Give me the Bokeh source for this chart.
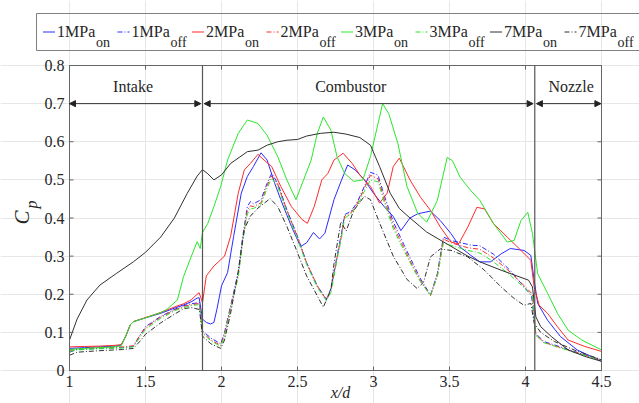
import numpy as np
from bokeh.plotting import figure
from bokeh.models import Range1d, FixedTicker, Grid, Arrow, NormalHead, ColumnDataSource
from bokeh.core.properties import value
from bokeh.embed import file_html
from bokeh.resources import INLINE

# ---------------- data ----------------
x_ticks = [1, 1.5, 2, 2.5, 3, 3.5, 4, 4.5]
x_tick_labels = ["1", "1.5", "2", "2.5", "3", "3.5", "4", "4.5"]
y_ticks = [0, 0.1, 0.2, 0.3, 0.4, 0.5, 0.6, 0.7, 0.8]
y_tick_labels = ["0", "0.1", "0.2", "0.3", "0.4", "0.5", "0.6", "0.7", "0.8"]

section_names = ["Intake", "Combustor", "Nozzle"]
section_label_x = [1.418, 2.85, 4.30]
section_bounds = [1.0, 1.875, 4.061, 4.5]

legend_main = ["1MPa", "1MPa", "2MPa", "2MPa", "3MPa", "3MPa", "7MPa", "7MPa"]
legend_sub = ["on", "off", "on", "off", "on", "off", "on", "off"]

# 1MPa on (blue solid)
x_1on = [1.0, 1.1, 1.2, 1.3, 1.34, 1.37, 1.40, 1.42, 1.5, 1.6, 1.7, 1.75, 1.80, 1.84, 1.853, 1.875, 1.90,
         1.928, 1.95, 1.97, 2.0, 2.04, 2.08, 2.13, 2.17, 2.21, 2.26, 2.30, 2.35, 2.39, 2.46, 2.52, 2.56,
         2.605, 2.645, 2.68, 2.74, 2.79, 2.83, 2.88, 2.94, 3.0, 3.07, 3.13, 3.18, 3.24, 3.29, 3.375, 3.44,
         3.51, 3.57, 3.64, 3.70, 3.77, 3.84, 3.90, 3.99, 4.035, 4.057, 4.08, 4.145, 4.23, 4.34, 4.5]
y_1on = [0.058, 0.06, 0.062, 0.064, 0.066, 0.09, 0.12, 0.128, 0.138, 0.15, 0.165, 0.172, 0.18, 0.19, 0.191,
         0.135, 0.126, 0.122, 0.126, 0.161, 0.222, 0.257, 0.352, 0.465, 0.509, 0.535, 0.571, 0.552, 0.491,
         0.448, 0.378, 0.325, 0.335, 0.362, 0.345, 0.36, 0.448, 0.50, 0.539, 0.526, 0.50, 0.465, 0.43, 0.404,
         0.367, 0.40, 0.411, 0.418, 0.393, 0.359, 0.324, 0.302, 0.285, 0.285, 0.306, 0.32, 0.315, 0.302,
         0.237, 0.176, 0.132, 0.089, 0.054, 0.024]

# 1MPa off (blue dash-dot)
x_1off = [1.0, 1.05, 1.2, 1.35, 1.42, 1.46, 1.5, 1.6, 1.7, 1.75, 1.80, 1.855, 1.875, 1.93, 1.995, 2.02, 2.06,
          2.11, 2.14, 2.17, 2.19, 2.21, 2.26, 2.30, 2.33, 2.37, 2.43, 2.5, 2.56, 2.63, 2.69, 2.72, 2.76, 2.79,
          2.81, 2.85, 2.89, 2.94, 2.98, 3.03, 3.07, 3.13, 3.20, 3.26, 3.31, 3.375, 3.42, 3.46, 3.51, 3.64,
          3.70, 3.79, 3.90, 4.0, 4.04, 4.068, 4.12, 4.19, 4.32, 4.5]
y_1off = [0.048, 0.055, 0.058, 0.06, 0.063, 0.09, 0.115, 0.142, 0.162, 0.17, 0.175, 0.178, 0.104, 0.085, 0.07,
          0.10, 0.17, 0.257, 0.352, 0.43, 0.443, 0.437, 0.448, 0.491, 0.517, 0.491, 0.422, 0.352, 0.283,
          0.222, 0.187, 0.215, 0.30, 0.361, 0.409, 0.417, 0.439, 0.483, 0.52, 0.512, 0.46, 0.39, 0.33, 0.28,
          0.24, 0.198, 0.254, 0.35, 0.341, 0.329, 0.327, 0.305, 0.262, 0.215, 0.195, 0.097, 0.076, 0.067,
          0.05, 0.028]

# 2MPa on (red solid)
x_2on = [1.0, 1.1, 1.2, 1.3, 1.34, 1.37, 1.40, 1.42, 1.5, 1.6, 1.7, 1.75, 1.80, 1.84, 1.853, 1.875, 1.90,
         1.95, 2.02, 2.06, 2.11, 2.15, 2.19, 2.24, 2.28, 2.33, 2.39, 2.46, 2.53, 2.565, 2.61, 2.66, 2.70,
         2.74, 2.80, 2.86, 2.91, 2.98, 3.04, 3.09, 3.13, 3.17, 3.24, 3.31, 3.375, 3.44, 3.51, 3.56, 3.62,
         3.68, 3.73, 3.79, 3.88, 3.97, 4.035, 4.057, 4.09, 4.145, 4.21, 4.28, 4.39, 4.5]
y_2on = [0.062, 0.063, 0.064, 0.066, 0.068, 0.09, 0.12, 0.128, 0.139, 0.152, 0.168, 0.175, 0.185, 0.2, 0.204,
         0.178, 0.248, 0.274, 0.30, 0.352, 0.465, 0.526, 0.543, 0.567, 0.552, 0.535, 0.483, 0.43, 0.396,
         0.386, 0.43, 0.50, 0.517, 0.552, 0.57, 0.543, 0.513, 0.483, 0.439, 0.465, 0.535, 0.557, 0.50, 0.454,
         0.42, 0.376, 0.337, 0.332, 0.376, 0.428, 0.424, 0.385, 0.35, 0.315, 0.289, 0.219, 0.171, 0.15,
         0.115, 0.08, 0.063, 0.05]

# 2MPa off (red dash-dot)
x_2off = [1.0, 1.05, 1.2, 1.35, 1.42, 1.46, 1.5, 1.6, 1.7, 1.75, 1.80, 1.855, 1.875, 1.93, 1.995, 2.02, 2.06,
          2.11, 2.14, 2.17, 2.19, 2.21, 2.26, 2.30, 2.33, 2.37, 2.43, 2.5, 2.56, 2.63, 2.69, 2.72, 2.76, 2.79,
          2.81, 2.85, 2.89, 2.94, 2.98, 3.03, 3.07, 3.13, 3.20, 3.26, 3.31, 3.375, 3.42, 3.46, 3.51, 3.62,
          3.70, 3.79, 3.90, 4.01, 4.046, 4.068, 4.12, 4.19, 4.32, 4.5]
y_2off = [0.052, 0.057, 0.06, 0.062, 0.065, 0.09, 0.112, 0.14, 0.16, 0.168, 0.172, 0.176, 0.1, 0.08, 0.066,
          0.095, 0.165, 0.25, 0.345, 0.42, 0.432, 0.43, 0.44, 0.485, 0.51, 0.488, 0.42, 0.35, 0.282, 0.222,
          0.185, 0.21, 0.295, 0.355, 0.405, 0.413, 0.435, 0.478, 0.512, 0.503, 0.45, 0.38, 0.322, 0.272,
          0.235, 0.196, 0.25, 0.345, 0.335, 0.322, 0.318, 0.295, 0.258, 0.215, 0.2, 0.095, 0.074, 0.065,
          0.049, 0.027]

# 3MPa on (green solid)
x_3on = [1.0, 1.1, 1.2, 1.3, 1.34, 1.37, 1.40, 1.42, 1.5, 1.6, 1.64, 1.71, 1.75, 1.80, 1.84, 1.86, 1.875,
         1.91, 1.95, 1.995, 2.04, 2.11, 2.17, 2.24, 2.30, 2.37, 2.43, 2.49, 2.54, 2.59, 2.63, 2.67, 2.72,
         2.76, 2.81, 2.87, 2.93, 2.98, 3.03, 3.06, 3.10, 3.16, 3.22, 3.29, 3.35, 3.42, 3.485, 3.52, 3.57,
         3.64, 3.70, 3.79, 3.88, 3.925, 3.97, 4.015, 4.046, 4.08, 4.146, 4.21, 4.28, 4.37, 4.5]
y_3on = [0.055, 0.058, 0.06, 0.062, 0.065, 0.09, 0.12, 0.128, 0.138, 0.152, 0.16, 0.185, 0.246, 0.298, 0.338,
         0.32, 0.362, 0.386, 0.43, 0.483, 0.552, 0.622, 0.657, 0.648, 0.617, 0.561, 0.50, 0.448, 0.50, 0.552,
         0.622, 0.665, 0.63, 0.561, 0.517, 0.496, 0.50, 0.561, 0.648, 0.70, 0.674, 0.596, 0.483, 0.413,
         0.389, 0.446, 0.559, 0.55, 0.507, 0.472, 0.446, 0.385, 0.337, 0.341, 0.393, 0.415, 0.359, 0.254,
         0.202, 0.15, 0.106, 0.08, 0.054]

# 3MPa off (green dash-dot)
x_3off = [1.0, 1.05, 1.2, 1.35, 1.42, 1.46, 1.5, 1.6, 1.7, 1.75, 1.80, 1.855, 1.875, 1.93, 1.995, 2.02, 2.06,
          2.11, 2.14, 2.17, 2.19, 2.21, 2.26, 2.30, 2.33, 2.37, 2.43, 2.5, 2.56, 2.63, 2.69, 2.72, 2.76, 2.79,
          2.81, 2.85, 2.89, 2.94, 2.98, 3.03, 3.07, 3.13, 3.20, 3.26, 3.31, 3.375, 3.42, 3.46, 3.51, 3.62,
          3.70, 3.79, 3.90, 4.01, 4.046, 4.068, 4.12, 4.19, 4.32, 4.5]
y_3off = [0.05, 0.054, 0.057, 0.059, 0.062, 0.085, 0.108, 0.137, 0.158, 0.165, 0.17, 0.173, 0.098, 0.078,
          0.063, 0.09, 0.16, 0.245, 0.34, 0.41, 0.425, 0.425, 0.435, 0.478, 0.505, 0.482, 0.415, 0.345, 0.278,
          0.218, 0.183, 0.205, 0.29, 0.35, 0.40, 0.41, 0.43, 0.47, 0.50, 0.495, 0.442, 0.372, 0.315, 0.268,
          0.232, 0.197, 0.245, 0.335, 0.328, 0.315, 0.308, 0.285, 0.25, 0.21, 0.195, 0.092, 0.073, 0.064,
          0.048, 0.027]

# 7MPa on (black solid)
x_7on = [1.0, 1.05, 1.115, 1.2, 1.31, 1.42, 1.5, 1.6, 1.69, 1.775, 1.84, 1.875, 1.91, 1.95, 2.0, 2.06, 2.17,
         2.24, 2.30, 2.37, 2.43, 2.5, 2.56, 2.65, 2.74, 2.82, 2.91, 2.98, 3.04, 3.11, 3.17, 3.24, 3.30, 3.35,
         3.5, 3.62, 3.70, 3.84, 3.93, 4.02, 4.046, 4.068, 4.10, 4.17, 4.28, 4.39, 4.5]
y_7on = [0.08, 0.135, 0.185, 0.224, 0.255, 0.285, 0.31, 0.35, 0.40, 0.465, 0.51, 0.527, 0.516, 0.50, 0.513,
         0.543, 0.574, 0.578, 0.591, 0.60, 0.604, 0.606, 0.615, 0.622, 0.625, 0.62, 0.611, 0.591, 0.535,
         0.465, 0.425, 0.40, 0.38, 0.363, 0.328, 0.30, 0.285, 0.263, 0.25, 0.237, 0.219, 0.141, 0.115, 0.089,
         0.054, 0.037, 0.024]

# 7MPa off (black dash-dot)
x_7off = [1.0, 1.05, 1.2, 1.35, 1.42, 1.46, 1.5, 1.6, 1.7, 1.75, 1.80, 1.855, 1.875, 1.93, 1.995, 2.02, 2.06,
          2.11, 2.15, 2.19, 2.24, 2.32, 2.37, 2.43, 2.5, 2.56, 2.63, 2.67, 2.72, 2.74, 2.785, 2.82, 2.87, 2.94,
          2.98, 3.04, 3.13, 3.22, 3.287, 3.33, 3.375, 3.44, 3.51, 3.62, 3.73, 3.84, 3.925, 3.99, 4.035, 4.057,
          4.10, 4.19, 4.32, 4.5]
y_7off = [0.04, 0.048, 0.052, 0.055, 0.058, 0.075, 0.095, 0.125, 0.15, 0.162, 0.165, 0.16, 0.09, 0.07, 0.058,
          0.08, 0.15, 0.26, 0.37, 0.405, 0.426, 0.451, 0.43, 0.378, 0.309, 0.248, 0.196, 0.166, 0.213, 0.28,
          0.39, 0.366, 0.42, 0.457, 0.448, 0.387, 0.30, 0.239, 0.215, 0.232, 0.298, 0.319, 0.315, 0.298, 0.263,
          0.219, 0.189, 0.171, 0.176, 0.124, 0.10, 0.076, 0.054, 0.028]

series_x = [x_1on, x_1off, x_2on, x_2off, x_3on, x_3off, x_7on, x_7off]
series_y = [y_1on, y_1off, y_2on, y_2off, y_3on, y_3off, y_7on, y_7off]

# ---------------- styles / layout ----------------
FONT = value("Liberation Serif")
TXT = "#262626"
AXC = "#666666"
colors = ["#2a2aff", "#2a2aff", "#ff2a2a", "#ff2a2a", "#2ae62a", "#2ae62a", "#303030", "#303030"]
dashes = ["solid", "5 2 1 2", "solid", "5 2 1 2", "solid", "5 2 1 2", "solid", "5 2 1 2"]
W, H = 639, 403
FL, FR, FT, FB = 69, 601, 65, 370   # axes box edges in canvas pixels
X0, X1, Y0, Y1 = x_ticks[0], x_ticks[-1], y_ticks[0], y_ticks[-1]


def X(px):
    return X0 + (px - FL) * (X1 - X0) / (FR - FL)


def Y(py):
    return Y0 + (FB - py) * (Y1 - Y0) / (FB - FT)


# the plotting frame covers the whole canvas, so the legend and titles can live in it
p = figure(width=W, height=H, x_range=Range1d(X(0), X(W)), y_range=Range1d(Y(H), Y(0)),
           output_backend="svg", toolbar_location=None, min_border=0,
           x_axis_type=None, y_axis_type=None)
p.background_fill_color = "white"
p.border_fill_color = "white"
p.outline_line_color = None

# grid, bounded to the axes box
p.add_layout(Grid(dimension=0, ticker=FixedTicker(ticks=x_ticks), bounds=(Y0, Y1),
                  grid_line_color="#e6e6e6", grid_line_width=1))
p.add_layout(Grid(dimension=1, ticker=FixedTicker(ticks=y_ticks), bounds=(X0, X1),
                  grid_line_color="#e6e6e6", grid_line_width=1))

# curves
for xs, ys, c, d in zip(series_x, series_y, colors, dashes):
    p.line(xs, ys, line_color=c, line_width=1, line_dash=d)

# axes box
p.quad(left=X0, right=X1, bottom=Y0, top=Y1, fill_color=None, line_color=AXC, line_width=1)

# inward ticks on all four sides, and tick labels
tx = 4 * (X1 - X0) / (FR - FL)
ty = 4 * (Y1 - Y0) / (FB - FT)
nx, ny = len(x_ticks), len(y_ticks)
p.segment(x0=x_ticks, y0=[Y0] * nx, x1=x_ticks, y1=[Y0 + ty] * nx, line_color=AXC)
p.segment(x0=x_ticks, y0=[Y1] * nx, x1=x_ticks, y1=[Y1 - ty] * nx, line_color=AXC)
p.segment(x0=[X0] * ny, y0=y_ticks, x1=[X0 + tx] * ny, y1=y_ticks, line_color=AXC)
p.segment(x0=[X1] * ny, y0=y_ticks, x1=[X1 - tx] * ny, y1=y_ticks, line_color=AXC)
p.text(x=x_ticks, y=[Y(381)] * nx, text=x_tick_labels, text_font=FONT, text_font_size="16px",
       text_align="center", text_baseline="middle", text_color=TXT)
p.text(x=[X(FL - 5)] * ny, y=y_ticks, text=y_tick_labels, text_font=FONT, text_font_size="16px",
       text_align="right", text_baseline="middle", text_color=TXT)

# section boundaries, arrows and labels
inner = section_bounds[1:-1]
p.segment(x0=inner, y0=[Y0] * len(inner), x1=inner, y1=[Y1] * len(inner), line_color="#555555", line_width=1.2)
arrow_y = 0.7
gap = 0.011
for i in range(3):
    a0 = section_bounds[i] + (gap if i > 0 else 0)
    a1 = section_bounds[i + 1] - (gap if i < 2 else 0.004)
    p.add_layout(Arrow(x_start=a0, y_start=arrow_y, x_end=a1, y_end=arrow_y,
                       line_color="#333333", line_width=1,
                       start=NormalHead(size=6, fill_color="#222222", line_color="#222222", line_width=1),
                       end=NormalHead(size=6, fill_color="#222222", line_color="#222222", line_width=1)))
src = ColumnDataSource(dict(x=section_label_x, y=[0.746] * 3, t=section_names))
p.text(x="x", y="y", text="t", source=src, text_font=FONT, text_font_size="16px",
       text_align="center", text_baseline="middle", text_color=TXT)

# axis titles
p.text(x=[X(21)], y=[Y(217)], text=["C"], angle=np.pi / 2, text_font=FONT, text_font_style="italic",
       text_font_size="21px", text_align="center", text_baseline="middle", text_color=TXT)
p.text(x=[X(31)], y=[Y(204)], text=["p"], angle=np.pi / 2, text_font=FONT, text_font_style="italic",
       text_font_size="16px", text_align="center", text_baseline="middle", text_color=TXT)
p.text(x=[X(340)], y=[Y(392)], text=["x/d"], text_font=FONT, text_font_style="italic",
       text_font_size="16px", text_align="center", text_baseline="middle", text_color=TXT)

# ---------------- legend (above the axes box) ----------------
BOX_L, BOX_T, BOX_B = 36, 13, 50
p.segment(x0=[X(BOX_L), X(BOX_L), X(BOX_L)], y0=[Y(BOX_T), Y(BOX_B), Y(BOX_T)],
          x1=[X(W + 20), X(W + 20), X(BOX_L)], y1=[Y(BOX_T), Y(BOX_B), Y(BOX_B)],
          line_color="#808080", line_width=1)
STEP = 74.5
for i, (m, s, c, d) in enumerate(zip(legend_main, legend_sub, colors, dashes)):
    s0 = 42.5 + STEP * i
    p.line([X(s0), X(s0 + 12)], [Y(31.5), Y(31.5)], line_color=c, line_width=1, line_dash=d)
    p.text(x=[X(s0 + 14)], y=[Y(30.5)], text=[m], text_font=FONT, text_font_size="16px",
           text_align="left", text_baseline="middle", text_color=TXT)
    p.text(x=[X(s0 + 53)], y=[Y(41.5)], text=[s], text_font=FONT, text_font_size="14px",
           text_align="left", text_baseline="middle", text_color=TXT)

open("out.html", "w").write(file_html(p, INLINE))
